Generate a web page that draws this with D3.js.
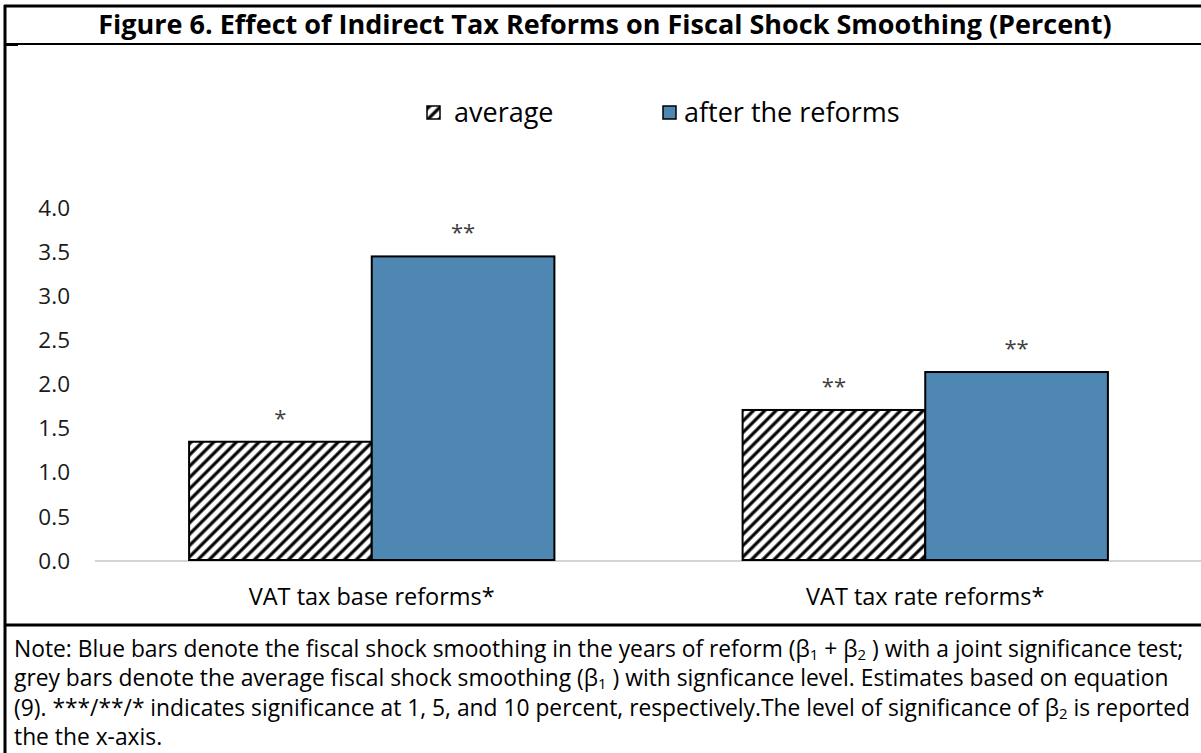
<!DOCTYPE html>
<html>
<head>
<meta charset="utf-8">
<script src="https://cdn.jsdelivr.net/npm/d3@7"></script>
<style>
  body { margin: 0; background: #fff; }
  svg { display: block; font-family: "Open Sans", "Noto Sans", sans-serif; }
</style>
</head>
<body>
<svg id="chart" width="1201" height="753"></svg>
<script>
// chart data
var categories = ["VAT tax base reforms*", "VAT tax rate reforms*"];
var seriesNames = ["average", "after the reforms"];
var averageVals = [1.34, 1.70];
var afterVals = [3.44, 2.13];
var averageSig = ["*", "**"];
var afterSig = ["**", "**"];
var yTicks = [0, 0.5, 1, 1.5, 2, 2.5, 3, 3.5, 4];

var svg = d3.select("#chart");
var W = 1201, H = 753;

// hatch for the "average" bars
var defs = svg.append("defs");
var pat = defs.append("pattern")
  .attr("id", "hatch")
  .attr("patternUnits", "userSpaceOnUse")
  .attr("width", 8).attr("height", 8)
  .attr("patternTransform", "rotate(45)");
pat.append("rect").attr("width", 8).attr("height", 8).attr("fill", "#fff");
pat.append("line").attr("x1", 2).attr("y1", 0).attr("x2", 2).attr("y2", 8)
  .attr("stroke", "#000").attr("stroke-width", 3.2);

var blue = "#4D87B2";

// frame lines
svg.append("line").attr("x1", 4).attr("x2", W).attr("y1", 6).attr("y2", 6)
  .attr("stroke", "#000").attr("stroke-width", 3);
svg.append("line").attr("x1", 5).attr("x2", 5).attr("y1", 5).attr("y2", H)
  .attr("stroke", "#000").attr("stroke-width", 3);
svg.append("line").attr("x1", 5).attr("x2", W).attr("y1", 44).attr("y2", 44)
  .attr("stroke", "#000").attr("stroke-width", 2);
svg.append("line").attr("x1", 5).attr("x2", 18).attr("y1", 44.5).attr("y2", 44.5)
  .attr("stroke", "#000").attr("stroke-width", 3);
svg.append("line").attr("x1", 5).attr("x2", W).attr("y1", 625).attr("y2", 625)
  .attr("stroke", "#000").attr("stroke-width", 3);

// title
svg.append("text")
  .attr("x", 605).attr("y", 34)
  .attr("text-anchor", "middle")
  .attr("font-size", 27).attr("font-weight", "bold")
  .attr("fill", "#000")
  .text("Figure 6. Effect of Indirect Tax Reforms on Fiscal Shock Smoothing (Percent)");

// scales
var margin = {left: 95, right: 1202, top: 207, bottom: 560};
var x0 = d3.scaleBand().domain(categories).range([margin.left, margin.right]).paddingInner(0.34).paddingOuter(0.17);
var x1 = d3.scaleBand().domain(seriesNames).range([0, x0.bandwidth()]);
var y = d3.scaleLinear().domain([0, 4]).range([margin.bottom, margin.top]);

// y axis labels (no line)
var yAxis = d3.axisLeft(y).tickValues(yTicks).tickFormat(d3.format(".1f")).tickSize(0).tickPadding(0);
var yg = svg.append("g").attr("transform", "translate(70,1)").call(yAxis);
yg.select(".domain").remove();
yg.selectAll("text").attr("font-size", 22.5).attr("fill", "#1a1a1a")
  .attr("font-family", "'Open Sans', sans-serif");

// baseline
svg.append("line").attr("x1", margin.left).attr("x2", margin.right)
  .attr("y1", y(0) + 1).attr("y2", y(0) + 1)
  .attr("stroke", "#d4d4d4").attr("stroke-width", 2);

// bars
var rows = categories.map(function (c, i) {
  return [
    {cat: c, s: seriesNames[0], v: averageVals[i], sig: averageSig[i]},
    {cat: c, s: seriesNames[1], v: afterVals[i], sig: afterSig[i]}
  ];
});
var grp = svg.selectAll(".cat").data(rows).enter().append("g")
  .attr("transform", function (d) { return "translate(" + x0(d[0].cat) + ",0)"; });

grp.selectAll("rect").data(function (d) { return d; }).enter().append("rect")
  .attr("x", function (d) { return x1(d.s); })
  .attr("y", function (d) { return y(d.v); })
  .attr("width", x1.bandwidth())
  .attr("height", function (d) { return y(0) - y(d.v); })
  .attr("fill", function (d) { return d.s === "average" ? "url(#hatch)" : blue; })
  .attr("stroke", "#000").attr("stroke-width", 2);

grp.selectAll(".sig").data(function (d) { return d; }).enter().append("text")
  .attr("x", function (d) { return x1(d.s) + x1.bandwidth() / 2; })
  .attr("y", function (d) { return y(d.v) - 16; })
  .attr("text-anchor", "middle")
  .attr("font-size", 22).attr("fill", "#404040")
  .text(function (d) { return d.sig; });

// category labels
svg.selectAll(".catlab").data(categories).enter().append("text")
  .attr("x", function (d) { return x0(d) + x0.bandwidth() / 2; })
  .attr("y", 605)
  .attr("text-anchor", "middle")
  .attr("font-size", 23.5).attr("fill", "#000")
  .text(function (d) { return d; });

// legend
var legX = [427, 663];
var legTextX = [27, 21];
var leg = svg.selectAll(".leg").data(seriesNames).enter().append("g")
  .attr("transform", function (d, i) { return "translate(" + legX[i] + ",106)"; });
leg.append("rect").attr("width", 13).attr("height", 13)
  .attr("fill", function (d, i) { return i === 0 ? "url(#hatch)" : blue; })
  .attr("stroke", "#000").attr("stroke-width", 1.5);
leg.append("text").attr("x", function (d, i) { return legTextX[i]; }).attr("y", 16)
  .attr("font-size", 27).attr("fill", "#000")
  .text(function (d) { return d; });

// note
var noteLines = [
  [["Note: Blue bars denote the fiscal shock smoothing in the years of reform (β"], ["1", "sub"], [" + β"], ["2", "sub"], [" ) with a joint significance test;"]],
  [["grey bars denote the average fiscal shock smoothing (β"], ["1", "sub"], [" ) with signficance level. Estimates based on equation"]],
  [["(9). ***/**/* indicates significance at 1, 5, and 10 percent, respectively.The level of significance of β"], ["2", "sub"], [" is reported"]],
  [["the the x-axis."]]
];
var note = svg.append("g");
noteLines.forEach(function (ln, i) {
  var t = note.append("text").attr("x", 14).attr("y", 657 + i * 29.3)
    .attr("font-size", 22.8).attr("fill", "#000");
  ln.forEach(function (p) {
    var ts = t.append("tspan").text(p[0]);
    if (p[1] === "sub") ts.attr("font-size", 15).attr("dy", 3);
    else if (ts.node().previousSibling) ts.attr("dy", -3);
  });
});
</script>
</body>
</html>
